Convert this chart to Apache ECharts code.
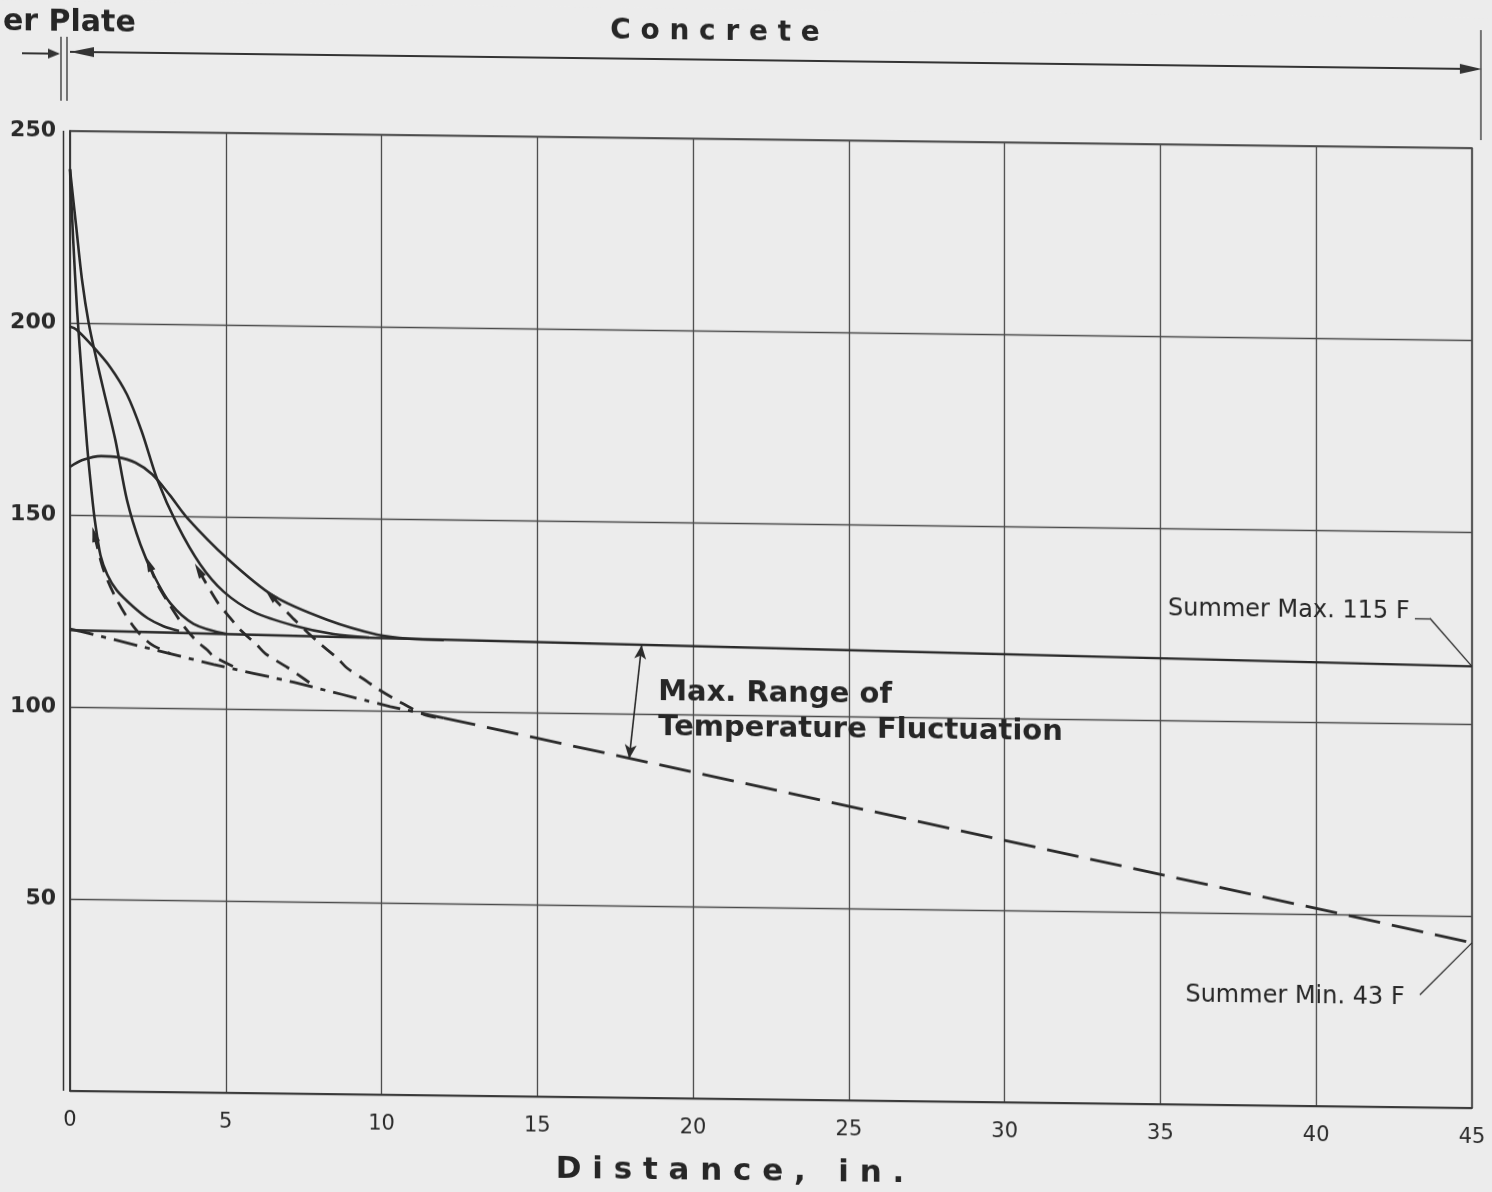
<!DOCTYPE html>
<html><head><meta charset="utf-8">
<script src="https://cdn.jsdelivr.net/npm/echarts@6/dist/echarts.min.js"></script>
<style>
html,body{margin:0;padding:0;background:#ececec;overflow:hidden;}
#c{width:1492px;height:1192px;transform:skewY(0.7deg);transform-origin:0 0;}
</style></head><body><div id="c"></div>
<script>
// ---- axis ticks ----
const xTickValues = [0, 5, 10, 15, 20, 25, 30, 35, 40, 45];
const yTickValues = [0, 50, 100, 150, 200, 250];

// ---- heating profiles (solid) ----
const s1X = [0, 0.1, 0.23, 0.39, 0.55, 0.7, 0.8, 0.98, 1.2, 1.5, 2.0, 2.5, 3.0, 3.5];
const s1Y = [240, 222, 203, 185, 168, 155.5, 148.5, 139.5, 134.5, 130.5, 126.5, 123.3, 121.3, 120.1];
const s2X = [0, 0.2, 0.39, 0.6, 0.85, 1.08, 1.46, 1.83, 2.26, 2.69, 3.22, 3.97, 5.0];
const s2Y = [240, 225, 211, 200, 190.5, 182.5, 169.5, 154, 142.5, 134.5, 127.3, 122, 119.5];
const s3X = [0, 0.2, 0.76, 1.3, 1.83, 2.3, 2.8, 3.44, 4.18, 4.93, 5.9, 7.18, 8.46, 9.6];
const s3Y = [199, 198.3, 193.7, 188.5, 181.5, 172, 159.5, 147.8, 137.5, 130.5, 125.3, 121.9, 119.8, 119];
const s4X = [0, 0.4, 1.0, 1.5, 2.1, 2.64, 3.2, 3.76, 5.04, 6.54, 8.25, 9.85, 10.9, 12];
const s4Y = [162.5, 164.3, 165.4, 165.2, 163.8, 160.8, 155.5, 149.6, 139.2, 129.5, 123.5, 119.8, 118.8, 118.6];

// ---- cooling profiles (dashed) ----
const d1X = [0.78, 1.08, 1.51, 2.05, 2.58, 3.22];
const d1Y = [145, 135.7, 127.9, 121, 116.7, 114.2];
const d2X = [2.53, 2.8, 3.12, 3.65, 4.08, 4.4, 4.61, 5.36];
const d2Y = [137.5, 132.3, 127.9, 121.4, 117.4, 115.3, 113.6, 110.6];
const d3X = [4.13, 4.72, 5.15, 5.47, 6.0, 6.27, 6.97, 7.29, 7.82];
const d3Y = [136, 127.9, 123.6, 120.6, 116.7, 114.5, 111, 109.3, 106.3];
const d4X = [6.43, 7.18, 7.93, 8.57, 8.89, 9.53, 9.85, 10.39, 10.71, 11.35, 11.9];
const d4Y = [129.8, 123.6, 117.9, 113.6, 111, 107.6, 105.8, 103.2, 101.8, 99.2, 98.2];

// ---- summer max / min steady profiles ----
const maxX = [0, 12, 45];
const maxY = [120, 118.7, 115];
const minLeftX = [0, 0.34, 2.37, 4.61, 7.18, 10.28, 12];
const minLeftY = [120.3, 119.7, 115.8, 111.5, 107.1, 101.1, 98.3];
const minRightX = [12, 15, 20, 30, 41, 45];
const minRightY = [98.3, 93.3, 85, 68.2, 49.8, 43];

// ---- annotation anchors (data units) ----
const rangeArrowTop = [18.35, 117.9];
const rangeArrowBottom = [17.95, 88.3];
const rangeText1 = [18.88, 105.7];
const rangeText2 = [18.88, 96.4];
const maxLabelAnchor = [43.0, 129];
const maxLeader = [[43.17, 127.4], [43.65, 127.4], [45, 115]];
const minLabelAnchor = [42.84, 28.4];
const minLeader = [[43.33, 29.3], [45, 43]];

const LINE = '#2a2a2a';
const FONT = 'DejaVu Sans';
const pts = (xs, ys) => xs.map((x, i) => [x, ys[i]]);

function solid(name, xs, ys) {
  return { type: 'line', name, data: pts(xs, ys), smooth: 0.3,
    symbol: 'none', lineStyle: { color: LINE, width: 2.6 }, silent: true, z: 3 };
}
function dashed(name, xs, ys) {
  return { type: 'line', name, data: pts(xs, ys), smooth: 0.3,
    symbol: 'none', showSymbol: true, itemStyle: { color: LINE },
    lineStyle: { color: LINE, width: 2.8, type: [15, 9] }, silent: true, z: 3 };
}

const series = [
  solid('S1', s1X, s1Y), solid('S2', s2X, s2Y), solid('S3', s3X, s3Y), solid('S4', s4X, s4Y),
  dashed('D1', d1X, d1Y), dashed('D2', d2X, d2Y), dashed('D3', d3X, d3Y), dashed('D4', d4X, d4Y),
  { type: 'line', name: 'Summer Max', data: pts(maxX, maxY), symbol: 'none', silent: true,
    lineStyle: { color: LINE, width: 2.4 }, z: 3,
    markLine: { silent: true, symbol: 'none', label: { show: false }, animation: false,
      lineStyle: { color: LINE, width: 1.3, type: 'solid' },
      data: [
        [{ coord: maxLeader[0] }, { coord: maxLeader[1] }],
        [{ coord: maxLeader[1] }, { coord: maxLeader[2] }],
        [{ coord: rangeArrowTop, symbol: 'arrow', symbolSize: [9, 14], lineStyle: { width: 1.6 } },
         { coord: rangeArrowBottom, symbol: 'arrow', symbolSize: [9, 14] }]
      ] } },
  { type: 'line', name: 'Summer Min left', data: pts(minLeftX, minLeftY), symbol: 'none', silent: true,
    smooth: 0.2, lineStyle: { color: LINE, width: 2.8, type: [24, 8, 5, 8] }, z: 3 },
  { type: 'line', name: 'Summer Min', data: pts(minRightX, minRightY), symbol: 'none', silent: true,
    lineStyle: { color: LINE, width: 2.8, type: [32, 12] }, z: 3,
    markLine: { silent: true, symbol: 'none', label: { show: false }, animation: false,
      lineStyle: { color: LINE, width: 1.2, type: 'solid' },
      data: [[{ coord: minLeader[0] }, { coord: minLeader[1] }]] } }
];

const option = {
  animation: false,
  backgroundColor: '#ececec',
  grid: { left: 70, right: 20, top: 130, bottom: 102, show: true, borderColor: '#3a3a3a', borderWidth: 1.5,
    outerBoundsMode: 'none' },
  xAxis: {
    type: 'value', min: 0, max: 45, interval: 5,
    axisLine: { show: true, lineStyle: { color: '#333', width: 1.5 } },
    axisTick: { show: false },
    axisLabel: { margin: 19, color: '#2a2a2a', fontFamily: FONT, fontSize: 21,
      formatter: v => (xTickValues.indexOf(v) >= 0 ? String(v) : '') },
    splitLine: { show: true, lineStyle: { color: '#4a4a4a', width: 1.3 } }
  },
  yAxis: {
    type: 'value', min: 0, max: 250, interval: 50,
    axisLine: { show: true, lineStyle: { color: '#333', width: 1.5 } },
    axisTick: { show: false },
    axisLabel: { margin: 14, color: '#2a2a2a', fontFamily: FONT, fontSize: 22, fontWeight: 'bold',
      formatter: v => (v === 0 || yTickValues.indexOf(v) < 0 ? '' : String(v)) },
    splitLine: { show: true, lineStyle: { color: '#4a4a4a', width: 1.3 } }
  },
  series
};

const chart = echarts.init(document.getElementById('c'));
chart.setOption(option);

// arrowheads at start of cooling curves, oriented along each curve
const dIdx = [4, 5, 6, 7];
dIdx.forEach(i => {
  const s = series[i];
  const p0 = chart.convertToPixel({ seriesIndex: i }, s.data[0]);
  const p1 = chart.convertToPixel({ seriesIndex: i }, s.data[1]);
  const dx = p0[0] - p1[0], dy = p0[1] - p1[1];
  const rot = Math.atan2(-dx, -dy) * 180 / Math.PI;
  const first = s.data[0];
  s.data[0] = { value: first, symbol: 'triangle', symbolSize: [8, 15], symbolRotate: rot };
});

const P = (x, v) => chart.convertToPixel({ gridIndex: 0 }, [x, v]);
const x0 = P(0, 0)[0], x45 = P(45, 0)[0];
const yTop = P(0, 250)[1], yBot = P(0, 0)[1];
const tStyle = (extra) => Object.assign({ fill: '#262626', fontFamily: FONT }, extra);

const r1 = P(rangeText1[0], rangeText1[1]);
const r2 = P(rangeText2[0], rangeText2[1]);
const mx = P(maxLabelAnchor[0], maxLabelAnchor[1]);
const mn = P(minLabelAnchor[0], minLabelAnchor[1]);
const topY = 51;

const graphic = [
  { type: 'line', shape: { x1: x0 - 6.5, y1: yTop, x2: x0 - 6.5, y2: yBot }, style: { stroke: '#333', lineWidth: 1.5 } },
  { type: 'line', shape: { x1: x0 - 9, y1: 36, x2: x0 - 9, y2: 100 }, style: { stroke: '#333', lineWidth: 1.3 } },
  { type: 'line', shape: { x1: x0 - 3, y1: 36, x2: x0 - 3, y2: 100 }, style: { stroke: '#333', lineWidth: 1.3 } },
  { type: 'line', shape: { x1: 22, y1: topY + 2, x2: x0 - 12, y2: topY + 2 }, style: { stroke: '#333', lineWidth: 2 } },
  { type: 'polygon', shape: { points: [[x0 - 10, topY + 2], [x0 - 22, topY - 3], [x0 - 22, topY + 7]] }, style: { fill: '#333' } },
  { type: 'line', shape: { x1: x0, y1: topY, x2: x45 + 6, y2: topY }, style: { stroke: '#333', lineWidth: 2 } },
  { type: 'polygon', shape: { points: [[x0, topY], [x0 + 24, topY - 5], [x0 + 24, topY + 5]] }, style: { fill: '#333' } },
  { type: 'polygon', shape: { points: [[x45 + 10, topY], [x45 - 12, topY - 5], [x45 - 12, topY + 5]] }, style: { fill: '#333' } },
  { type: 'line', shape: { x1: x45 + 9, y1: 12, x2: x45 + 9, y2: 122 }, style: { stroke: '#333', lineWidth: 1.3 } },
  { type: 'text', x: 3, y: 22, style: tStyle({ text: 'er Plate', fontSize: 30, fontWeight: 'bold', verticalAlign: 'middle' }) },
  { type: 'text', x: 715, y: 24, style: tStyle({ text: 'C o n c r e t e', fontSize: 28, fontWeight: 'bold', align: 'center', verticalAlign: 'middle' }) },
  { type: 'text', x: 730, y: 1163, style: tStyle({ text: 'D i s t a n c e ,   i n .', fontSize: 31, fontWeight: 'bold', align: 'center', verticalAlign: 'middle' }) },
  { type: 'text', x: r1[0], y: r1[1], style: tStyle({ text: 'Max. Range of', fontSize: 29, fontWeight: 'bold', verticalAlign: 'middle' }) },
  { type: 'text', x: r2[0], y: r2[1], style: tStyle({ text: 'Temperature Fluctuation', fontSize: 29, fontWeight: 'bold', verticalAlign: 'middle' }) },
  { type: 'text', x: mx[0], y: mx[1], style: tStyle({ text: 'Summer Max. 115 F', fontSize: 24, align: 'right', verticalAlign: 'middle' }) },
  { type: 'text', x: mn[0], y: mn[1], style: tStyle({ text: 'Summer Min. 43 F', fontSize: 24, align: 'right', verticalAlign: 'middle' }) }
];

chart.setOption({ series, graphic });
</script></body></html>
